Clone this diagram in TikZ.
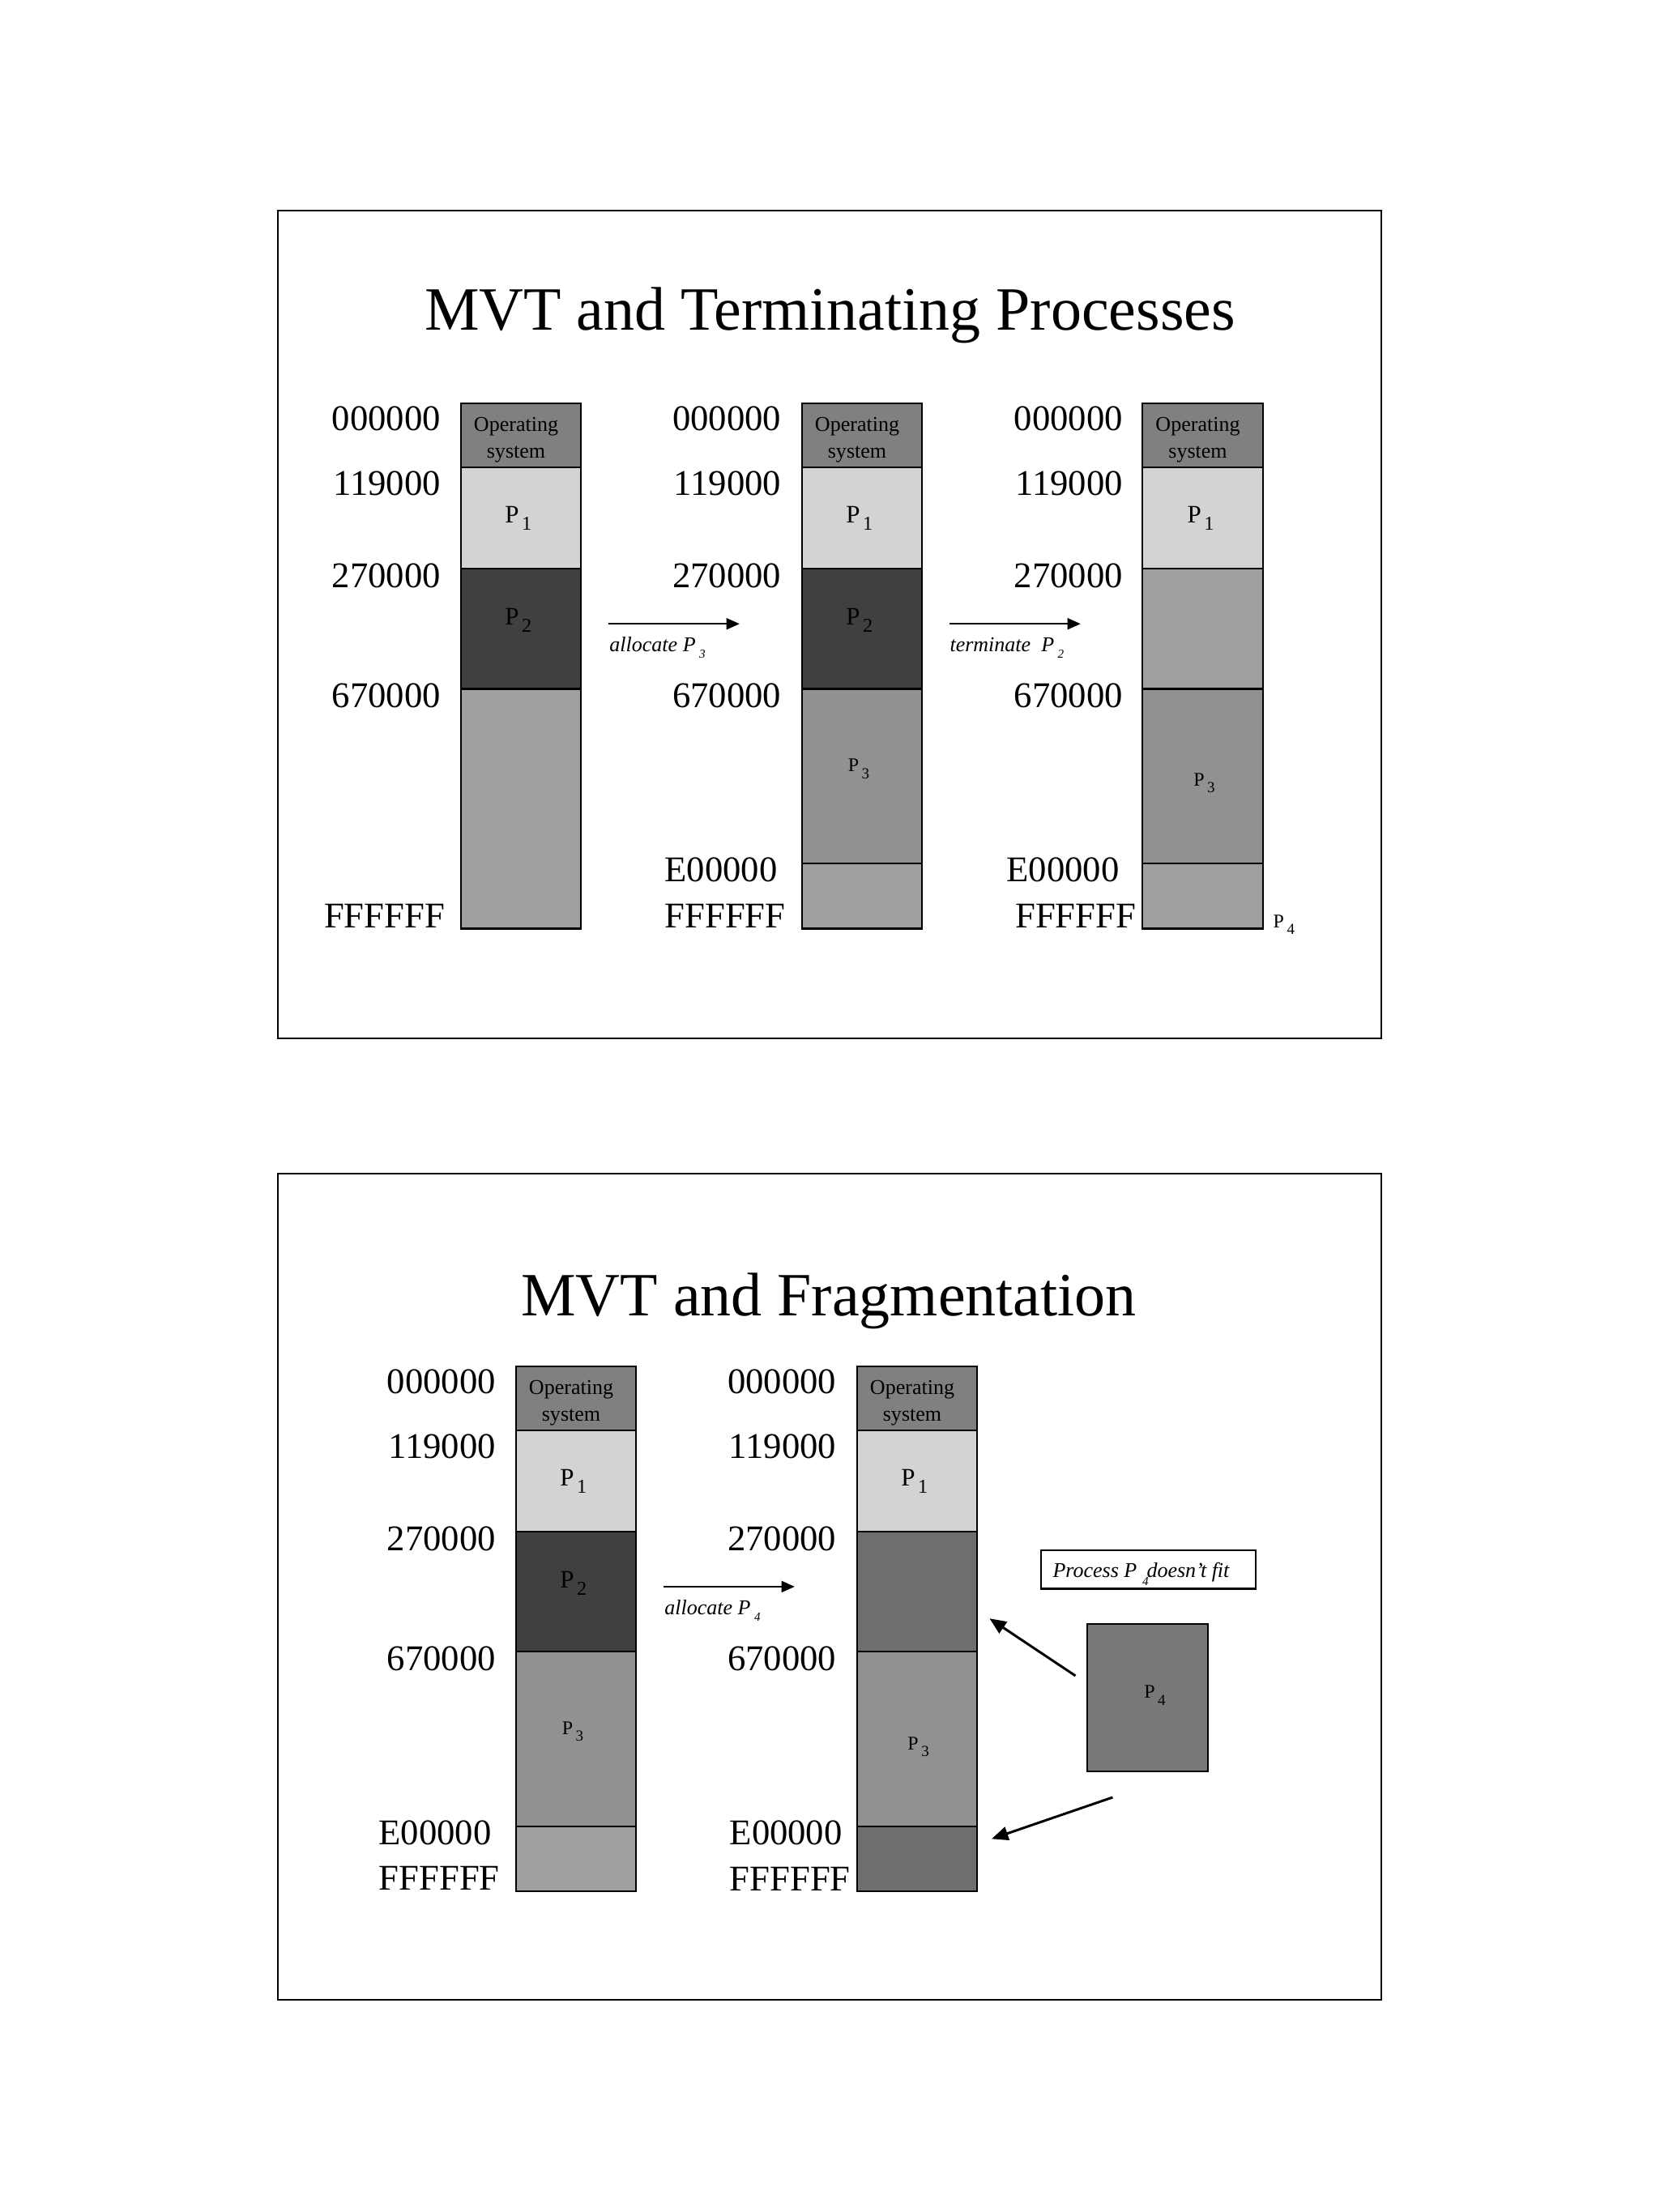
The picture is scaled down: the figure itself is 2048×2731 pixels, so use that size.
\documentclass[tikz,border=0pt]{standalone}
\usepackage{fontspec}
\setmainfont{Liberation Serif}
\usetikzlibrary{arrows.meta}

\definecolor{cOS}{gray}{0.50}
\definecolor{cPone}{gray}{0.827}
\definecolor{cPtwo}{gray}{0.25}
\definecolor{cFree}{gray}{0.627}
\definecolor{cPthree}{gray}{0.569}
\definecolor{cFrag}{gray}{0.43}
\definecolor{cPfour}{gray}{0.47}

\newcommand\mvtLab{\fontsize{12.7pt}{14pt}\selectfont}
\newcommand\mvtTitle{\fontsize{21.6pt}{24pt}\selectfont}
\newcommand\mvtOS{\fontsize{7.4pt}{9pt}\selectfont}
\newcommand\mvtPfont{\fontsize{8.8pt}{10pt}\selectfont}
\newcommand\mvtPsubfont{\fontsize{6.9pt}{8pt}\selectfont}
\newcommand\mvtPsfont{\fontsize{6.8pt}{8pt}\selectfont}
\newcommand\mvtPssubfont{\fontsize{5.4pt}{6pt}\selectfont}
\newcommand\mvtArr{\fontsize{7.4pt}{9pt}\selectfont\itshape}
\newcommand\mvtArrsub{\fontsize{4.3pt}{5pt}\selectfont\itshape}

\newcommand\mvtBigP[1]{{\mvtPfont P}\kern1pt\raisebox{-2.55pt}{\mvtPsubfont #1}}
\newcommand\mvtSmallP[1]{{\mvtPsfont P}\kern1pt\raisebox{-2.5pt}{\mvtPssubfont #1}}
\newcommand\mvtArrP[1]{P\kern1.3pt\raisebox{-2.5pt}{\mvtArrsub #1}}

\tikzset{
  lab/.style={font=\mvtLab, inner sep=0pt},
  txt/.style={inner sep=0pt},
  region/.style={draw=black, line width=0.6pt},
  slideframe/.style={draw=black, line width=0.7pt},
  arr/.style={-{Triangle[length=4.6pt,width=4pt]}, line width=0.5pt},
  bigarr/.style={-{Triangle[length=5.8pt,width=4.8pt]}, line width=0.85pt}
}

\begin{document}
\begin{tikzpicture}[x=0.01cm,y=-0.01cm]
\useasboundingbox (0,0) rectangle (2048,2731);
\fill[white] (0,0) rectangle (2048,2731);

% ================= TOP SLIDE =================
\draw[slideframe] (343,260) rectangle (1705,1282);
\node[txt, font=\mvtTitle, anchor=base] (title1) at (1024.5,407.5) {MVT and Terminating Processes};

% column 1
\filldraw[region, fill=cOS]    (568.6,497.9) rectangle (717.2,576.9);
\filldraw[region, fill=cPone]  (568.6,576.9) rectangle (717.2,701.9);
\filldraw[region, fill=cPtwo]  (568.6,701.9) rectangle (717.2,850.5);
\filldraw[region, fill=cFree]  (568.6,850.5) rectangle (717.2,1146.5);
\node[txt, font=\mvtOS, anchor=base] (os1a) at (637,532.7) {Operating};
\node[txt, font=\mvtOS, anchor=base] (os1b) at (637,565.7) {system};
\node[txt, anchor=base] (p1a) at (639.7,646) {\mvtBigP{1}};
\node[txt, anchor=base] (p2a) at (639.7,771.5) {\mvtBigP{2}};
\node[lab, anchor=base east] (l1a) at (544.5,532) {000000};
\node[lab, anchor=base east] (l1b) at (544.5,611.7) {119000};
\node[lab, anchor=base east] (l1c) at (544.5,725.5) {270000};
\node[lab, anchor=base east] (l1d) at (544.5,873.8) {670000};
\node[lab, anchor=base east] (l1f) at (549.8,1145.2) {FFFFFF};

% arrow 1
\coordinate (a1s) at (750.7,770.2);
\coordinate (a1e) at (912.8,770.2);
\draw[arr] (a1s) -- (a1e);
\node[txt, font=\mvtArr, anchor=base west] (a1l) at (751.7,804) {allocate \mvtArrP{3}};

% column 2
\filldraw[region, fill=cOS]     (989.6,497.9) rectangle (1138.2,576.9);
\filldraw[region, fill=cPone]   (989.6,576.9) rectangle (1138.2,701.9);
\filldraw[region, fill=cPtwo]   (989.6,701.9) rectangle (1138.2,850.5);
\filldraw[region, fill=cPthree] (989.6,850.5) rectangle (1138.2,1066.2);
\filldraw[region, fill=cFree]   (989.6,1066.2) rectangle (1138.2,1146.5);
\node[txt, font=\mvtOS, anchor=base] (os2a) at (1058,532.7) {Operating};
\node[txt, font=\mvtOS, anchor=base] (os2b) at (1058,565.7) {system};
\node[txt, anchor=base] (p1b) at (1060.9,646) {\mvtBigP{1}};
\node[txt, anchor=base] (p2b) at (1060.9,771.5) {\mvtBigP{2}};
\node[txt, anchor=base] (p3b) at (1059.9,952.4) {\mvtSmallP{3}};
\node[lab, anchor=base east] (l2a) at (965,532) {000000};
\node[lab, anchor=base east] (l2b) at (965,611.7) {119000};
\node[lab, anchor=base east] (l2c) at (965,725.5) {270000};
\node[lab, anchor=base east] (l2d) at (965,873.8) {670000};
\node[lab, anchor=base west] (l2e) at (819.9,1088.8) {E00000};
\node[lab, anchor=base west] (l2f) at (819.9,1145.2) {FFFFFF};

% arrow 2
\coordinate (a2s) at (1171.8,770.2);
\coordinate (a2e) at (1333.7,770.2);
\draw[arr] (a2s) -- (a2e);
\node[txt, font=\mvtArr, anchor=base west] (a2l) at (1171.8,804) {terminate\ \ \mvtArrP{2}};

% column 3
\filldraw[region, fill=cOS]     (1410.2,497.9) rectangle (1558.7,576.9);
\filldraw[region, fill=cPone]   (1410.2,576.9) rectangle (1558.7,701.9);
\filldraw[region, fill=cFree]   (1410.2,701.9) rectangle (1558.7,850.5);
\filldraw[region, fill=cPthree] (1410.2,850.5) rectangle (1558.7,1066.2);
\filldraw[region, fill=cFree]   (1410.2,1066.2) rectangle (1558.7,1146.5);
\node[txt, font=\mvtOS, anchor=base] (os3a) at (1478.5,532.7) {Operating};
\node[txt, font=\mvtOS, anchor=base] (os3b) at (1478.5,565.7) {system};
\node[txt, anchor=base] (p1c) at (1482,646) {\mvtBigP{1}};
\node[txt, anchor=base] (p3c) at (1486.4,970) {\mvtSmallP{3}};
\node[lab, anchor=base east] (l3a) at (1386.5,532) {000000};
\node[lab, anchor=base east] (l3b) at (1386.5,611.7) {119000};
\node[lab, anchor=base east] (l3c) at (1386.5,725.5) {270000};
\node[lab, anchor=base east] (l3d) at (1386.5,873.8) {670000};
\node[lab, anchor=base west] (l3e) at (1241.8,1088.8) {E00000};
\node[lab, anchor=base west] (l3f) at (1252.6,1145.2) {FFFFFF};
\node[txt, anchor=base west] (p4top) at (1571,1145) {\mvtSmallP{4}};

% ================= BOTTOM SLIDE =================
\draw[slideframe] (343,1449) rectangle (1705,2469);
\node[txt, font=\mvtTitle, anchor=base] (title2) at (1023,1624.3) {MVT and Fragmentation};

% column 1
\filldraw[region, fill=cOS]     (636.6,1686.6) rectangle (785.2,1765.6);
\filldraw[region, fill=cPone]   (636.6,1765.6) rectangle (785.2,1890.6);
\filldraw[region, fill=cPtwo]   (636.6,1890.6) rectangle (785.2,2039.2);
\filldraw[region, fill=cPthree] (636.6,2039.2) rectangle (785.2,2254.9);
\filldraw[region, fill=cFree]   (636.6,2254.9) rectangle (785.2,2335.2);
\node[txt, font=\mvtOS, anchor=base] (os4a) at (705,1721.4) {Operating};
\node[txt, font=\mvtOS, anchor=base] (os4b) at (705,1754.4) {system};
\node[txt, anchor=base] (p1d) at (707.9,1834.7) {\mvtBigP{1}};
\node[txt, anchor=base] (p2d) at (707.9,1960.2) {\mvtBigP{2}};
\node[txt, anchor=base] (p3d) at (706.9,2141.1) {\mvtSmallP{3}};
\node[lab, anchor=base east] (l4a) at (612.5,1720.7) {000000};
\node[lab, anchor=base east] (l4b) at (612.5,1800.4) {119000};
\node[lab, anchor=base east] (l4c) at (612.5,1914.2) {270000};
\node[lab, anchor=base east] (l4d) at (612.5,2062.5) {670000};
\node[lab, anchor=base west] (l4e) at (467,2277.5) {E00000};
\node[lab, anchor=base west] (l4f) at (467,2333.9) {FFFFFF};

% arrow 3
\coordinate (a3s) at (818.7,1958.9);
\coordinate (a3e) at (980.8,1958.9);
\draw[arr] (a3s) -- (a3e);
\node[txt, font=\mvtArr, anchor=base west] (a3l) at (819.6,1993) {allocate \mvtArrP{4}};

% column 2
\filldraw[region, fill=cOS]     (1057.6,1686.6) rectangle (1206.2,1765.6);
\filldraw[region, fill=cPone]   (1057.6,1765.6) rectangle (1206.2,1890.6);
\filldraw[region, fill=cFrag]   (1057.6,1890.6) rectangle (1206.2,2039.2);
\filldraw[region, fill=cPthree] (1057.6,2039.2) rectangle (1206.2,2254.9);
\filldraw[region, fill=cFrag]   (1057.6,2254.9) rectangle (1206.2,2335.2);
\node[txt, font=\mvtOS, anchor=base] (os5a) at (1126,1721.4) {Operating};
\node[txt, font=\mvtOS, anchor=base] (os5b) at (1126,1754.4) {system};
\node[txt, anchor=base] (p1e) at (1128.9,1834.7) {\mvtBigP{1}};
\node[txt, anchor=base] (p3e) at (1133.6,2160) {\mvtSmallP{3}};
\node[lab, anchor=base east] (l5a) at (1033,1720.7) {000000};
\node[lab, anchor=base east] (l5b) at (1033,1800.4) {119000};
\node[lab, anchor=base east] (l5c) at (1033,1914.2) {270000};
\node[lab, anchor=base east] (l5d) at (1033,2062.5) {670000};
\node[lab, anchor=base west] (l5e) at (900,2277.5) {E00000};
\node[lab, anchor=base west] (l5f) at (900,2334.5) {FFFFFF};

% "Process P4 doesn't fit" box
\draw[region] (1285,1914.3) rectangle (1550,1961.5);
\node[txt, font=\mvtArr, anchor=base west] (msgA) at (1298.8,1947.8) {Process P};
\node[txt, font=\mvtArrsub, anchor=base west] (msgB) at (1409.5,1957.5) {4};
\node[txt, font=\mvtArr, anchor=base west] (msgC) at (1414.8,1947.8) {doesn't fit};

% P4 block
\filldraw[region, fill=cPfour] (1342,2004.8) rectangle (1491.4,2187.3);
\node[txt, anchor=base west] (p4box) at (1411.7,2096.6) {\mvtSmallP{4}};

% diagonal arrows
\coordinate (d1s) at (1327.5,2069);
\coordinate (d1e) at (1221.4,1998.2);
\coordinate (d2s) at (1373.4,2219);
\coordinate (d2e) at (1224,2270.3);
\draw[bigarr] (d1s) -- (d1e);
\draw[bigarr] (d2s) -- (d2e);

\end{tikzpicture}
\end{document}
